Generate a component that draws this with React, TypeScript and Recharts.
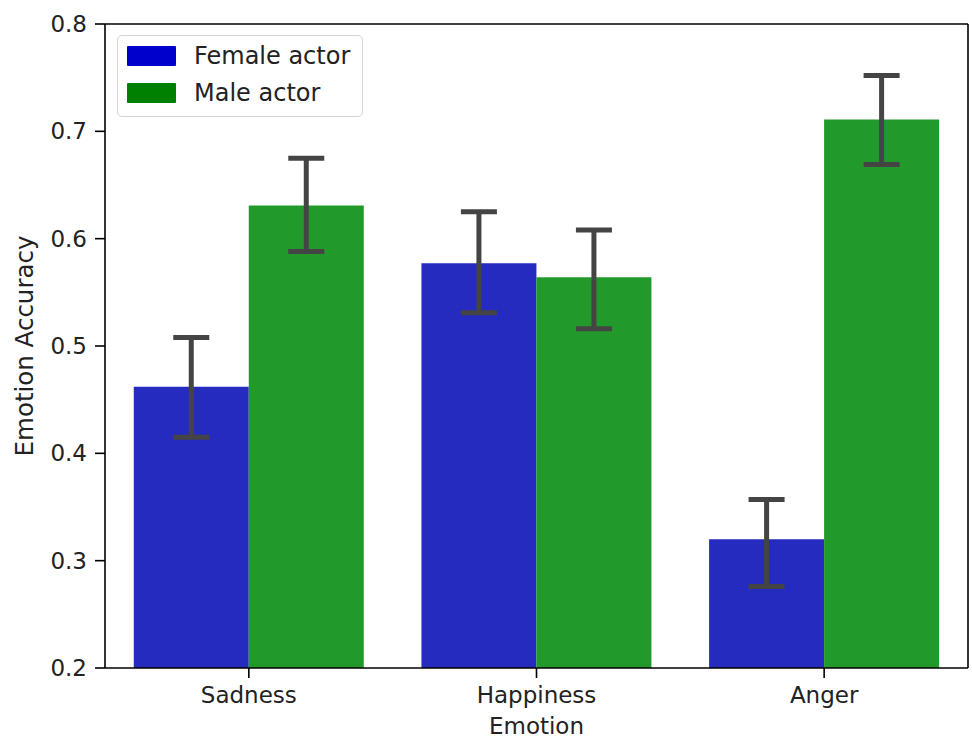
import { BarChart, Bar, XAxis, YAxis, ErrorBar, Legend, Label } from 'recharts';

const emotions = ['Sadness', 'Happiness', 'Anger'];

// mean accuracy and 95% CI bounds per actor gender
const femaleMean = [0.462, 0.577, 0.320];
const femaleLow = [0.415, 0.531, 0.276];
const femaleHigh = [0.508, 0.625, 0.357];

const maleMean = [0.631, 0.564, 0.711];
const maleLow = [0.588, 0.516, 0.669];
const maleHigh = [0.675, 0.608, 0.752];

const yTicks = [0.2, 0.3, 0.4, 0.5, 0.6, 0.7, 0.8];

const data = emotions.map((emotion, i) => ({
  emotion,
  female: femaleMean[i],
  femaleErr: [femaleMean[i] - femaleLow[i], femaleHigh[i] - femaleMean[i]],
  male: maleMean[i],
  maleErr: [maleMean[i] - maleLow[i], maleHigh[i] - maleMean[i]],
}));

const FONT = '"DejaVu Sans", sans-serif';
const TEXT = '#222';

const legendItems = [
  { label: 'Female actor', color: '#0000cd' },
  { label: 'Male actor', color: '#008000' },
];

function LegendBox() {
  return (
    <div
      style={{
        position: 'absolute',
        left: 117,
        top: 35,
        width: 244,
        height: 80,
        border: '1px solid #d6d6d6',
        borderRadius: 5,
        background: 'rgba(255,255,255,0.8)',
        fontFamily: FONT,
        fontSize: 24,
        color: TEXT,
      }}
    >
      {legendItems.map((item, i) => (
        <div key={item.label} style={{ position: 'absolute', left: 9, top: 10 + i * 37, display: 'flex', alignItems: 'center', height: 20 }}>
          <div style={{ width: 49, height: 20, background: item.color, borderRadius: 1 }} />
          <span style={{ marginLeft: 18, whiteSpace: 'nowrap', lineHeight: '20px' }}>{item.label}</span>
        </div>
      ))}
    </div>
  );
}

export default function App() {
  return (
    <div style={{ position: 'absolute', left: 0, top: 0, width: 972, height: 740, background: '#fff' }}>
      <BarChart
        width={972}
        height={740}
        data={data}
        margin={{ top: 23, right: 3, left: 0, bottom: 0 }}
        barCategoryGap="10%"
        barGap={0}
      >
        <XAxis
          dataKey="emotion"
          height={72}
          tickSize={10}
          tickMargin={9}
          stroke="#000"
          strokeWidth={1.6}
          tick={{ fill: TEXT, fontSize: 23, fontFamily: FONT }}
        >
          <Label value="Emotion" position="insideBottom" offset={6} style={{ fill: TEXT, fontSize: 23, fontFamily: FONT }} />
        </XAxis>
        {/* top and right spines */}
        <XAxis xAxisId="top" dataKey="emotion" orientation="top" height={1} tick={false} tickLine={false} stroke="#000" strokeWidth={1.6} />
        <YAxis
          domain={[0.2, 0.8]}
          ticks={yTicks}
          allowDataOverflow
          width={105}
          tickSize={10}
          tickMargin={8}
          stroke="#000"
          strokeWidth={1.6}
          tickFormatter={(v: number) => v.toFixed(1)}
          tick={{ fill: TEXT, fontSize: 23, fontFamily: FONT }}
        >
          <Label
            value="Emotion Accuracy"
            angle={-90}
            position="insideLeft"
            offset={24}
            style={{ fill: TEXT, fontSize: 24.5, fontFamily: FONT, textAnchor: 'middle' }}
          />
        </YAxis>
        <YAxis yAxisId="right" orientation="right" domain={[0.2, 0.8]} width={1} tick={false} tickLine={false} stroke="#000" strokeWidth={1.6} />
        <Bar dataKey="female" name="Female actor" fill="#262bbf" isAnimationActive={false}>
          <ErrorBar dataKey="femaleErr" width={18} strokeWidth={5} stroke="#444" />
        </Bar>
        <Bar dataKey="male" name="Male actor" fill="#229a2b" isAnimationActive={false}>
          <ErrorBar dataKey="maleErr" width={18} strokeWidth={5} stroke="#444" />
        </Bar>
        <Legend layout="vertical" verticalAlign="middle" align="center" content={() => null} />
      </BarChart>
      <LegendBox />
    </div>
  );
}
